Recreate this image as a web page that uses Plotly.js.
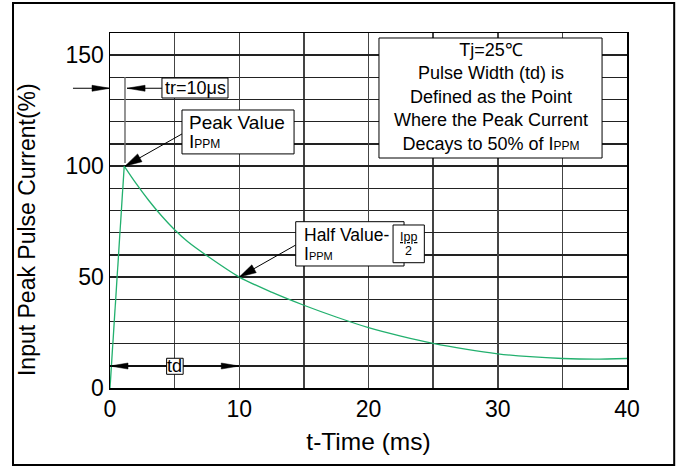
<!DOCTYPE html>
<html>
<head>
<meta charset="utf-8">
<script src="https://cdn.plot.ly/plotly-3.0.1.min.js"></script>
<style>html,body{margin:0;padding:0;background:#fff;}#chart{width:680px;height:467px;}</style>
</head>
<body>
<div id="chart"></div>
<script>
// ---- data ----
const timeMs = [0, 1.1, 2, 3, 4, 5, 6, 7.5, 10, 12.5, 15, 17.5, 20, 22.5, 25, 27.5, 30, 32.5, 35, 37.5, 40];
const currentPct = [0, 100, 92.3, 84.5, 77.5, 71.3, 66, 59.6, 50, 43.2, 37.3, 32, 27.2, 23.4, 20.1, 17.5, 15.4, 14.1, 13.3, 13.0, 13.3];
const peakIndex = 1; // rise is a straight ramp, decay is a smooth curve
const xTickVals = [0, 10, 20, 30, 40];
const xTickText = ["0", "10", "20", "30", "40"];
const yTickVals = [0, 50, 100, 150];
const yTickText = ["0", "50", "100", "150"];
const xTitle = 't-Time (ms)';
const yTitle = 'Input Peak Pulse Current(%)';

const FONT = '"Liberation Sans", Arial, sans-serif';
const GREEN = '#22b06e';
const small = (s, px) => '<span style="font-size:' + (px || 12) + 'px">' + s + '</span>';

function box(x0, x1, y0, y1) {
  return {type: 'rect', xref: 'x', yref: 'y', x0: x0, x1: x1, y0: y0, y1: y1,
    fillcolor: '#ffffff', line: {color: '#000', width: 1}, layer: 'above'};
}
function seg(x0, y0, x1, y1, color, w, xref) {
  return {type: 'line', xref: xref || 'x', yref: 'y', x0: x0, y0: y0, x1: x1, y1: y1,
    line: {color: color || '#000', width: w || 1}, layer: 'above'};
}
function head(xa, ya, path, xref) {
  return {type: 'path', xref: xref || 'x', yref: 'y', xsizemode: 'pixel', ysizemode: 'pixel',
    xanchor: xa, yanchor: ya, path: path, fillcolor: '#000', line: {color: '#000', width: 0.5}, layer: 'above'};
}
const HEAD_R = 'M0,0L-18,3L-18,-3Z';
const HEAD_L = 'M0,0L18,3L18,-3Z';
const HEAD_DL = 'M0,0L17,4.4L12.6,12.2Z';

function txt(x, y, text, size, xanchor) {
  return {x: x, y: y, xref: 'x', yref: 'y', text: text, showarrow: false,
    xanchor: xanchor || 'center', yanchor: 'middle', align: xanchor === 'left' ? 'left' : 'center',
    font: {family: FONT, size: size, color: '#000'}};
}

const shapes = [
  // outer frame
  {type: 'rect', xref: 'paper', yref: 'paper', x0: -0.1876, x1: 1.0913, y0: -0.2169, y1: 1.0845,
    line: {color: '#000', width: 2}, layer: 'above'},
  // tr marker
  seg(1.16, 101.4, 1.16, 140.2, '#707070', 1.5),
  {type: 'line', xref: 'paper', yref: 'y', x0: -0.0716, x1: 0, y0: 135.1, y1: 135.1, line: {color: '#000', width: 1}, layer: 'above'},
  head(0, 135.1, HEAD_R, 'paper'),
  seg(1.32, 135.1, 4.02, 135.1),
  head(1.32, 135.1, HEAD_L),
  box(4.02, 9.13, 130.7, 139.7),
  // peak value
  seg(5.57, 114.5, 1.16, 100),
  head(1.16, 100, HEAD_DL),
  box(5.57, 14.24, 105.5, 125.3),
  // half value
  seg(14.37, 64.45, 10, 50),
  head(10, 50, HEAD_DL),
  box(14.37, 22.75, 54.99, 74.95),
  box(21.9, 24.32, 56.47, 73.47),
  // td
  seg(0, 9.9, 10, 9.9),
  head(0, 9.9, HEAD_L),
  head(10, 9.9, HEAD_R),
  box(4.38, 5.66, 6.17, 13.4),
  // info box
  box(20.81, 38.07, 103.66, 157.75)
];

const annotations = [
  txt(29.44, 131.1, 'Tj=25℃<br>Pulse Width (td) is<br>Defined as the Point<br>Where the Peak Current<br>Decays to 50% of I' + small('PPM'), 18),
  txt(6.58, 135.2, 'tr=10μs', 18),
  txt(5.96, 119.6, 'Peak Value', 19, 'left'),
  txt(5.96, 111.2, 'I' + small('PPM'), 19, 'left'),
  txt(14.83, 68.9, 'Half Value-', 17.5, 'left'),
  txt(14.83, 60.5, 'I' + small('PPM', 11), 17.5, 'left'),
  txt(23.11, 68.0, '<u>Ipp</u>', 12.5),
  txt(23.11, 61.6, '2', 12.5),
  txt(5.02, 9.8, 'td', 18),
  // y-axis title, placed as in the reference (slightly below the axis centre)
  {x: -0.1605, y: 0.445, xref: 'paper', yref: 'paper', text: yTitle, showarrow: false,
    textangle: -90, xanchor: 'center', yanchor: 'middle',
    font: {family: FONT, size: 23, color: '#000'}}
];

const rise = {
  x: timeMs.slice(0, peakIndex + 1), y: currentPct.slice(0, peakIndex + 1),
  type: 'scatter', mode: 'lines', line: {color: GREEN, width: 1.3}, hoverinfo: 'skip'
};
const decay = {
  x: timeMs.slice(peakIndex), y: currentPct.slice(peakIndex),
  type: 'scatter', mode: 'lines', line: {color: GREEN, width: 1.3, shape: 'spline', smoothing: 0.8}, hoverinfo: 'skip'
};

const layout = {
  width: 680, height: 467,
  margin: {l: 110, r: 53, t: 33, b: 79, pad: 0},
  paper_bgcolor: '#fff', plot_bgcolor: '#fff',
  showlegend: false,
  font: {family: FONT, color: '#000'},
  xaxis: {
    range: [0, 40], tickmode: 'array', tickvals: xTickVals, ticktext: xTickText,
    showgrid: true, gridcolor: '#444', gridwidth: 1.5,
    minor: {tickmode: 'linear', tick0: 0, dtick: 5, showgrid: true, gridcolor: '#444', gridwidth: 1.5},
    showline: true, linecolor: '#000', linewidth: 1.5, mirror: true, zeroline: false,
    ticks: '', tickfont: {family: FONT, size: 23, color: '#000'},
    title: {text: xTitle, font: {family: FONT, size: 24.5, color: '#000'}, standoff: 12},
    fixedrange: true
  },
  yaxis: {
    range: [0, 160], tickmode: 'array', tickvals: yTickVals, ticktext: yTickText,
    showgrid: true, gridcolor: '#222', gridwidth: 1.4,
    minor: {tickmode: 'linear', tick0: 0, dtick: 10, showgrid: true, gridcolor: '#222', gridwidth: 1.4},
    showline: true, linecolor: '#000', linewidth: 1.5, mirror: true, zeroline: false,
    ticks: '', tickfont: {family: FONT, size: 23, color: '#000'},
    fixedrange: true
  },
  shapes: shapes,
  annotations: annotations
};

Plotly.newPlot('chart', [rise, decay], layout, {staticPlot: true, displayModeBar: false});
</script>
</body>
</html>
